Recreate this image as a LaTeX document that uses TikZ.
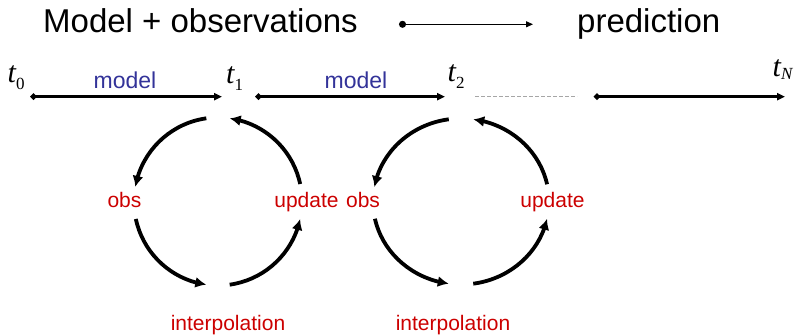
\documentclass[tikz,border=0pt]{standalone}
\usepackage{fontspec}
\setmainfont{Liberation Sans}
\newfontfamily\timesfont{Liberation Serif}
\usetikzlibrary{arrows.meta,bending}
\definecolor{modelblue}{RGB}{51,51,153}
\definecolor{stepred}{RGB}{204,0,0}
\newcommand{\tlab}[2]{{\timesfont\itshape t}\raisebox{#2}{\fontsize{17}{17}\selectfont\timesfont #1}}

\begin{document}
\begin{tikzpicture}[
    x=1pt, y=1pt,
    lbl/.style={inner sep=0pt, anchor=base},
    ttl/.style={lbl, anchor=base west, font=\fontsize{33}{33}\selectfont},
    tim/.style={lbl, anchor=base west, font=\fontsize{30}{30}\selectfont},
    mdl/.style={lbl, text=modelblue, font=\fontsize{23}{23}\selectfont},
    stp/.style={lbl, text=stepred, font=\fontsize{21}{21}\selectfont},
    tline/.style={{Circle[length=6pt]}-{Triangle[length=8pt,width=7pt]}, line width=2.4pt},
    cyc/.style={-{Latex[length=11pt,width=11pt]}, line width=3.8pt},
]
\useasboundingbox (0,0) rectangle (797,336);

% Title
\node[ttl] (title) at (43,303) {Model + observations};
\node[ttl] (pred) at (577,303) {prediction};
\coordinate (h0) at (399,311.7);
\coordinate (h1) at (533,311.7);
\draw[{Circle[length=7pt]}-{Triangle[length=7pt,width=6pt]}, line width=1pt] (h0) -- (h1);

% Time axis
\node[tim] (t0) at (7.5,253) {\tlab{0}{-7pt}};
\node[tim] (t1) at (226,252) {\tlab{1}{-7pt}};
\node[tim] (t2) at (447.5,254) {\tlab{2}{-7pt}};
\node[tim] (tN) at (772.5,259) {\tlab{\itshape N}{-3pt}};
\coordinate (s0) at (30.5,239.3);
\coordinate (e0) at (222,239.3);
\coordinate (s1) at (255.5,239.3);
\coordinate (e1) at (445,239.3);
\coordinate (d0) at (475,239.3);
\coordinate (d1) at (577,239.3);
\coordinate (s2) at (594,239.3);
\coordinate (e2) at (785,239.3);
\draw[tline] (s0) -- (e0);
\draw[tline] (s1) -- (e1);
\draw[gray!70, line width=1pt, dash pattern=on 4pt off 2pt] (d0) -- (d1);
\draw[tline] (s2) -- (e2);
\node[mdl] (model1) at (125,247) {model};
\node[mdl] (model2) at (356,247) {model};

% First cycle
\coordinate (c1) at (218,134.5);
\node[stp] (obs1) at (124.5,128) {obs};
\node[stp] (upd1) at (306.5,128) {update};
\node[stp] (int1) at (228,5) {interpolation};
\draw[cyc] ([shift={(98:84)}]c1) arc[start angle=98, end angle=170, radius=84];
\draw[cyc] ([shift={(192:84)}]c1) arc[start angle=192, end angle=262, radius=84];
\draw[cyc] ([shift={(278:84)}]c1) arc[start angle=278, end angle=348, radius=84];
\draw[cyc] ([shift={(12:84)}]c1) arc[start angle=12, end angle=82, radius=84];

% Second cycle
\coordinate (c2) at (461,134.5);
\node[stp] (obs2) at (363,128) {obs};
\node[stp] (upd2) at (552.5,128) {update};
\node[stp] (int2) at (453,5) {interpolation};
\draw[cyc] ([shift={(98:88 and 83)}]c2) arc[start angle=98, end angle=170, x radius=88, y radius=83];
\draw[cyc] ([shift={(192:88 and 83)}]c2) arc[start angle=192, end angle=262, x radius=88, y radius=83];
\draw[cyc] ([shift={(278:88 and 83)}]c2) arc[start angle=278, end angle=348, x radius=88, y radius=83];
\draw[cyc] ([shift={(12:88 and 83)}]c2) arc[start angle=12, end angle=82, x radius=88, y radius=83];
\end{tikzpicture}
\end{document}
